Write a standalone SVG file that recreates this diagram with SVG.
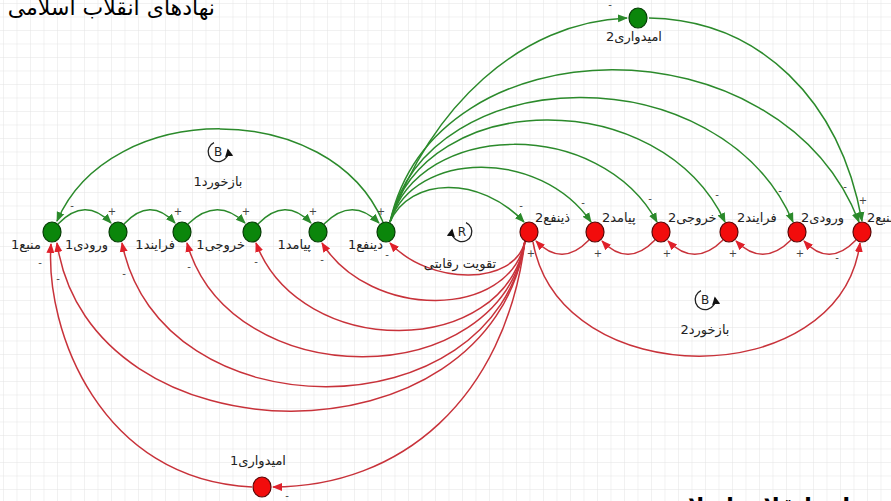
<svg xmlns="http://www.w3.org/2000/svg" width="891" height="501" viewBox="0 0 891 501">
<defs>
<pattern id="grid" width="13.5" height="13.5" patternUnits="userSpaceOnUse" x="3" y="3">
<path d="M13.5,0 L0,0 0,13.5" fill="none" stroke="#e4e4e4" stroke-width="1"/>
</pattern>
<marker id="ag" viewBox="0 0 10 10" refX="9" refY="5" markerWidth="10" markerHeight="10" markerUnits="userSpaceOnUse" orient="auto"><path d="M0,1 L10,5 L0,9 z" fill="#2b8a2b"/></marker>
<marker id="ar" viewBox="0 0 10 10" refX="9" refY="5" markerWidth="10" markerHeight="10" markerUnits="userSpaceOnUse" orient="auto"><path d="M0,1 L10,5 L0,9 z" fill="#e0202a"/></marker>
<marker id="ak" viewBox="0 0 10 10" refX="8" refY="5" markerWidth="8" markerHeight="8" markerUnits="userSpaceOnUse" orient="auto"><path d="M0,0 L10,5 L0,10 z" fill="#111"/></marker>
</defs>
<style>
.g{fill:none;stroke:#2b8a2b;stroke-width:1.5;marker-end:url(#ag)}
.r{fill:none;stroke:#c8323a;stroke-width:1.5;marker-end:url(#ar)}
.ng{fill:#0b860b;stroke:#053d05;stroke-width:1.2}
.nr{fill:#f20c0c;stroke:#5a0606;stroke-width:1.2}
.lb{font-family:"DejaVu Sans",sans-serif;font-size:13px;fill:#222}
.sg{font-family:"DejaVu Sans",sans-serif;font-size:10px;fill:#444;text-anchor:middle}
.lp{fill:none;stroke:#222;stroke-width:1.3;marker-end:url(#ak)}
.lt{font-family:"DejaVu Sans",sans-serif;font-size:12px;fill:#222;text-anchor:middle}
.tt{font-family:"DejaVu Sans",sans-serif;font-size:22px;fill:#000}
</style>
<rect width="891" height="501" fill="#fff"/>
<rect width="891" height="501" fill="url(#grid)"/>

<text class="tt" x="215" y="15" text-anchor="end">نهادهای انقلاب اسلامی</text>
<text class="tt" x="652" y="514" font-weight="bold">نهادهای معاند علیه انقلاب اسلامی</text>

<g id="connectors">
<path class="g" d="M58,224 Q85,196 111,223"/>
<path class="g" d="M124,224 Q150,196 175,223"/>
<path class="g" d="M188,224 Q217,196 245,223"/>
<path class="g" d="M258,224 Q285,196 311,223"/>
<path class="g" d="M324,224 Q352,196 379,223"/>
<path class="g" d="M383,222 C330,98 110,98 57,221"/>
<path class="g" d="M390,222 C410,177 480,175 524,222"/>
<path class="g" d="M390,222 C415,150 540,148 591,222"/>
<path class="g" d="M390,222 C420,120 600,117 657,222"/>
<path class="g" d="M390,222 C425,88 660,84 725,222"/>
<path class="g" d="M390,222 C430,58 720,54 793,222"/>
<path class="g" d="M390,222 C435,20 780,18 859,222"/>
<path class="g" d="M390,222 C430,108 520,22 627,18"/>
<path class="g" d="M649,18 C760,20 840,100 862,221"/>
<path class="r" d="M856,240 Q829,268 804,241"/>
<path class="r" d="M791,240 Q763,268 736,241"/>
<path class="r" d="M723,240 Q695,268 668,241"/>
<path class="r" d="M655,240 Q628,268 602,241"/>
<path class="r" d="M589,240 Q562,268 536,241"/>
<path class="r" d="M533,242 C560,394 840,394 860,243"/>
<path class="r" d="M525,241 C515,286 430,286 390,243"/>
<path class="r" d="M525,241 C510,320 370,320 322,243"/>
<path class="r" d="M525,241 C505,360 300,360 256,243"/>
<path class="r" d="M525,241 C500,395 230,395 187,243"/>
<path class="r" d="M525,241 C495,435 160,435 122,243"/>
<path class="r" d="M525,241 C490,470 90,465 57,243"/>
<path class="r" d="M525,241 C505,400 400,487 273,487"/>
<path class="r" d="M252,487 C100,480 45,330 51,244"/>
</g>

<g id="loop_b1">
<path class="lp" d="M214,142.6 A10,10 0 1,0 228,150"/>
<text class="lt" x="218" y="156">B</text>
<text class="lb" x="218" y="186" text-anchor="middle">بازخورد1</text>
</g>
<g id="loop_r">
<path class="lp" d="M466,222.6 A10,10 0 1,1 452,230"/>
<text class="lt" x="462" y="236">R</text>
<text class="lb" x="460" y="268" text-anchor="middle">تقویت رقابتی</text>
</g>
<g id="loop_b2">
<path class="lp" d="M701,290.6 A10,10 0 1,0 715,298"/>
<text class="lt" x="705" y="304">B</text>
<text class="lb" x="705" y="334" text-anchor="middle">بازخورد2</text>
</g>

<g id="n_manba1"><ellipse class="ng" cx="52" cy="232" rx="9" ry="10"/><text class="lb" x="41" y="249" text-anchor="end">منبع1</text></g>
<g id="n_vorudi1"><ellipse class="ng" cx="118" cy="232" rx="9" ry="10"/><text class="lb" x="108" y="249" text-anchor="end">ورودی1</text></g>
<g id="n_farayand1"><ellipse class="ng" cx="182" cy="232" rx="9" ry="10"/><text class="lb" x="175" y="249" text-anchor="end">فرایند1</text></g>
<g id="n_khoruji1"><ellipse class="ng" cx="252" cy="232" rx="9" ry="10"/><text class="lb" x="245" y="249" text-anchor="end">خروجی1</text></g>
<g id="n_payamad1"><ellipse class="ng" cx="318" cy="232" rx="9" ry="10"/><text class="lb" x="311" y="249" text-anchor="end">پیامد1</text></g>
<g id="n_zinafe1"><ellipse class="ng" cx="386" cy="232" rx="9" ry="10"/><text class="lb" x="383" y="249" text-anchor="end">دینفع1</text></g>

<g id="n_zinafe2"><ellipse class="nr" cx="529" cy="232" rx="9" ry="10"/><text class="lb" x="535" y="222">ذینفع2</text></g>
<g id="n_payamad2"><ellipse class="nr" cx="595" cy="232" rx="9" ry="10"/><text class="lb" x="602" y="222">پیامد2</text></g>
<g id="n_khoruji2"><ellipse class="nr" cx="661" cy="232" rx="9" ry="10"/><text class="lb" x="668" y="222">خروجی2</text></g>
<g id="n_farayand2"><ellipse class="nr" cx="729" cy="232" rx="9" ry="10"/><text class="lb" x="737" y="222">فرایند2</text></g>
<g id="n_vorudi2"><ellipse class="nr" cx="797" cy="232" rx="9" ry="10"/><text class="lb" x="801" y="222">ورودی2</text></g>
<g id="n_manba2"><ellipse class="nr" cx="862" cy="232" rx="9" ry="10"/><text class="lb" x="867" y="222">منبع2</text></g>

<g id="n_omid2"><ellipse class="ng" cx="638" cy="18" rx="9" ry="10"/><text class="lb" x="634" y="41" text-anchor="middle">امیدواری2</text></g>
<g id="n_omid1"><ellipse class="nr" cx="262" cy="487" rx="9" ry="10"/><text class="lb" x="258" y="465" text-anchor="middle">امیدواری1</text></g>

<g id="signs">
<text class="sg" x="72" y="209">-</text>
<text class="sg" x="112" y="215">+</text>
<text class="sg" x="178" y="215">+</text>
<text class="sg" x="246" y="215">+</text>
<text class="sg" x="313" y="215">+</text>
<text class="sg" x="381" y="215">+</text>
<text class="sg" x="521" y="209">-</text>
<text class="sg" x="583" y="206">-</text>
<text class="sg" x="650" y="202">-</text>
<text class="sg" x="717" y="198">-</text>
<text class="sg" x="780" y="194">-</text>
<text class="sg" x="845" y="190">-</text>
<text class="sg" x="863" y="204">+</text>
<text class="sg" x="610" y="8">-</text>
<text class="sg" x="531" y="257">+</text>
<text class="sg" x="598" y="257">+</text>
<text class="sg" x="667" y="257">+</text>
<text class="sg" x="733" y="257">+</text>
<text class="sg" x="800" y="257">+</text>
<text class="sg" x="837" y="261">-</text>
<text class="sg" x="387" y="258">-</text>
<text class="sg" x="322" y="263">-</text>
<text class="sg" x="256" y="265">-</text>
<text class="sg" x="189" y="270">-</text>
<text class="sg" x="124" y="277">-</text>
<text class="sg" x="40" y="266">-</text>
<text class="sg" x="58" y="282">-</text>
<text class="sg" x="287" y="499">-</text>
</g>
</svg>
